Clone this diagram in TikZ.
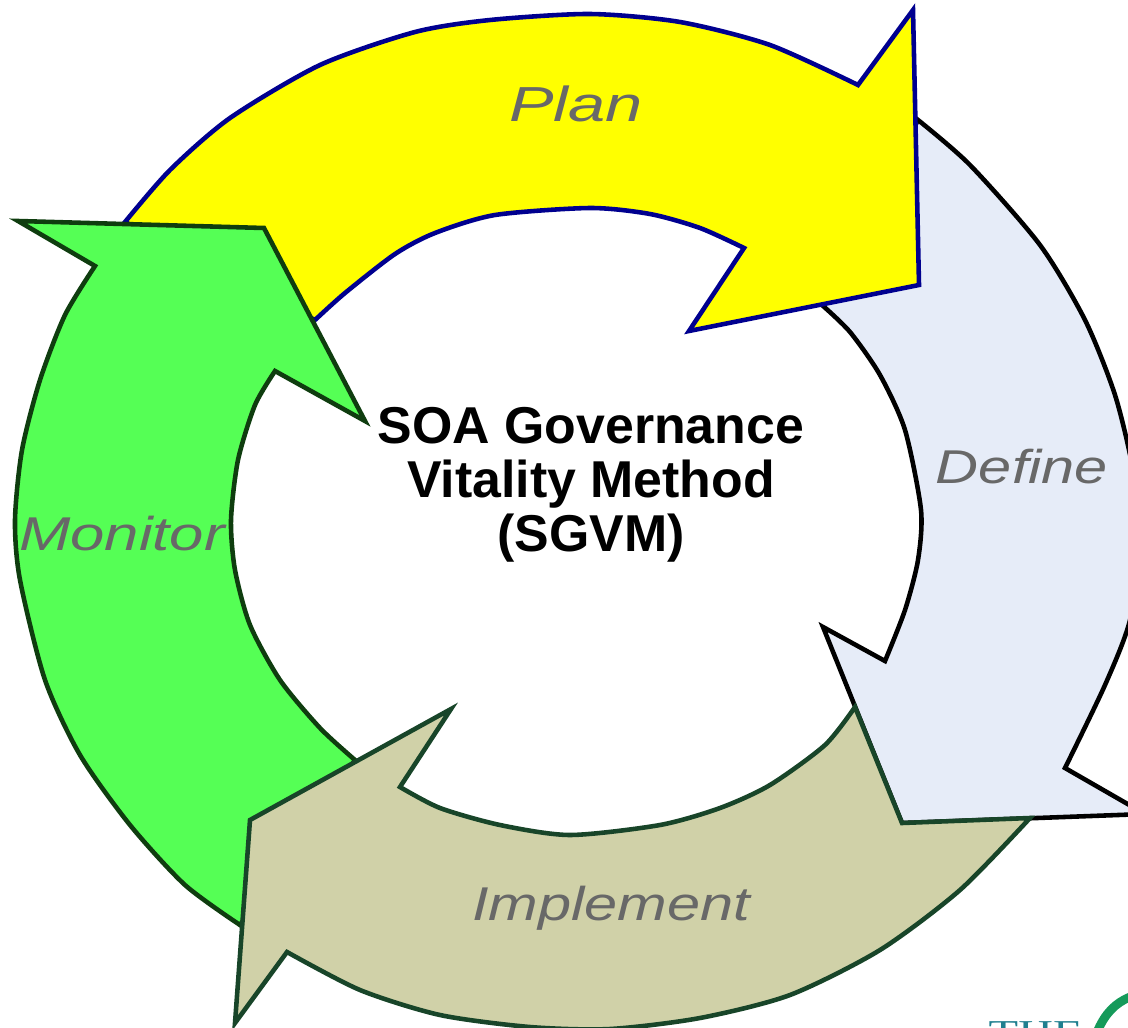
\documentclass[tikz,border=0pt]{standalone}
\usepackage{fontspec}
\setmainfont{Liberation Sans}
\newfontfamily\logofont{Liberation Serif}
\definecolor{planfill}{HTML}{FFFF00}
\definecolor{planedge}{HTML}{00008F}
\definecolor{definefill}{HTML}{E6ECF8}
\definecolor{monitorfill}{HTML}{55FF55}
\definecolor{monitoredge}{HTML}{0F3D0F}
\definecolor{implementfill}{HTML}{D0D1A8}
\definecolor{implementedge}{HTML}{184529}
\definecolor{labelgray}{HTML}{686868}
\definecolor{logoteal}{HTML}{1F7F8F}
\definecolor{logogreen}{HTML}{159A5A}
\tikzset{
    phase/.style={line width=2.6pt,line join=miter,miter limit=6},
    phaselabel/.style={font=\fontsize{27}{30}\selectfont\itshape,text=labelgray,xscale=1.255,inner sep=0pt},
    curve/.style={smooth,tension=0.45}
}
\begin{document}
\begin{tikzpicture}[x=0.02cm,y=-0.02cm]
    \useasboundingbox (0,0) rectangle (1128,1027);
    \draw[phase,draw=black,fill=definefill] plot[curve] coordinates {(918,120) (970,165) (1040,245) (1085,320) (1115,395) (1133,470) (1140,540) (1130,620) (1105,685) (1065,768)}
        -- (1145,814) -- (902,823) -- (823,627) -- (885,661)
        -- plot[curve] coordinates {(885,661) (905,610) (918,560) (921,510) (905,430) (880,375) (850,332) (822,305)} -- cycle;
    \draw[phase,draw=planedge,fill=planfill] plot[curve] coordinates {(125,222) (170,170) (230,118) (320,65) (415,32) (490,20) (590,14) (680,22) (770,45) (858,85)}
        -- (913,10) -- (919,285) -- (689,331) -- (744,248)
        -- plot[curve] coordinates {(744,248) (700,228) (650,214) (590,208) (495,215) (435,233) (395,254) (345,293) (315,320)} -- cycle;
    \draw[phase,draw=monitoredge,fill=monitorfill] plot[curve] coordinates {(95,266) (65,315) (40,380) (22,450) (15,520) (20,580) (45,680) (80,755) (130,825) (185,885) (240,925)}
        -- (355,760)
        -- plot[curve] coordinates {(355,760) (320,728) (280,680) (250,625) (235,570) (231,520) (238,460) (255,405) (275,371)}
        -- (365,421) -- (264,228) -- (18,221) -- cycle;
    \draw[phase,draw=implementedge,fill=implementfill] plot[curve] coordinates {(855,707) (825,745) (770,785) (720,808) (660,825) (570,835) (500,825) (440,808) (400,787)}
        -- (451,709) -- (250,820) -- (235,1023) -- (287,952)
        -- plot[curve] coordinates {(287,952) (360,990) (440,1015) (530,1027) (610,1029) (700,1018) (790,995) (880,950) (960,890) (1030,818)}
        -- (902,823) -- cycle;
    \node[phaselabel,font=\fontsize{28}{30}\selectfont\itshape,xscale=1.08] (plan) at (576,104) {Plan};
    \node[phaselabel] (define) at (1022,467) {Define};
    \node[phaselabel,xscale=1.036] (monitor) at (122,534) {Monitor};
    \node[phaselabel] (implement) at (611,908) {Implement};
    \node[font=\fontsize{29.5}{30.7}\selectfont\bfseries,align=center,inner sep=0pt] (title) at (591,485) {SOA Governance\\Vitality Method\\(SGVM)};
    \node[font=\logofont\fontsize{19}{19}\selectfont,text=logoteal,anchor=north west,inner sep=0pt,xscale=1.45] (logotext) at (988,1021) {THE};
    \draw[logogreen,line width=5pt] (1130,997) .. controls (1115,1003) and (1105,1014) .. (1098,1030);
\end{tikzpicture}
\end{document}
